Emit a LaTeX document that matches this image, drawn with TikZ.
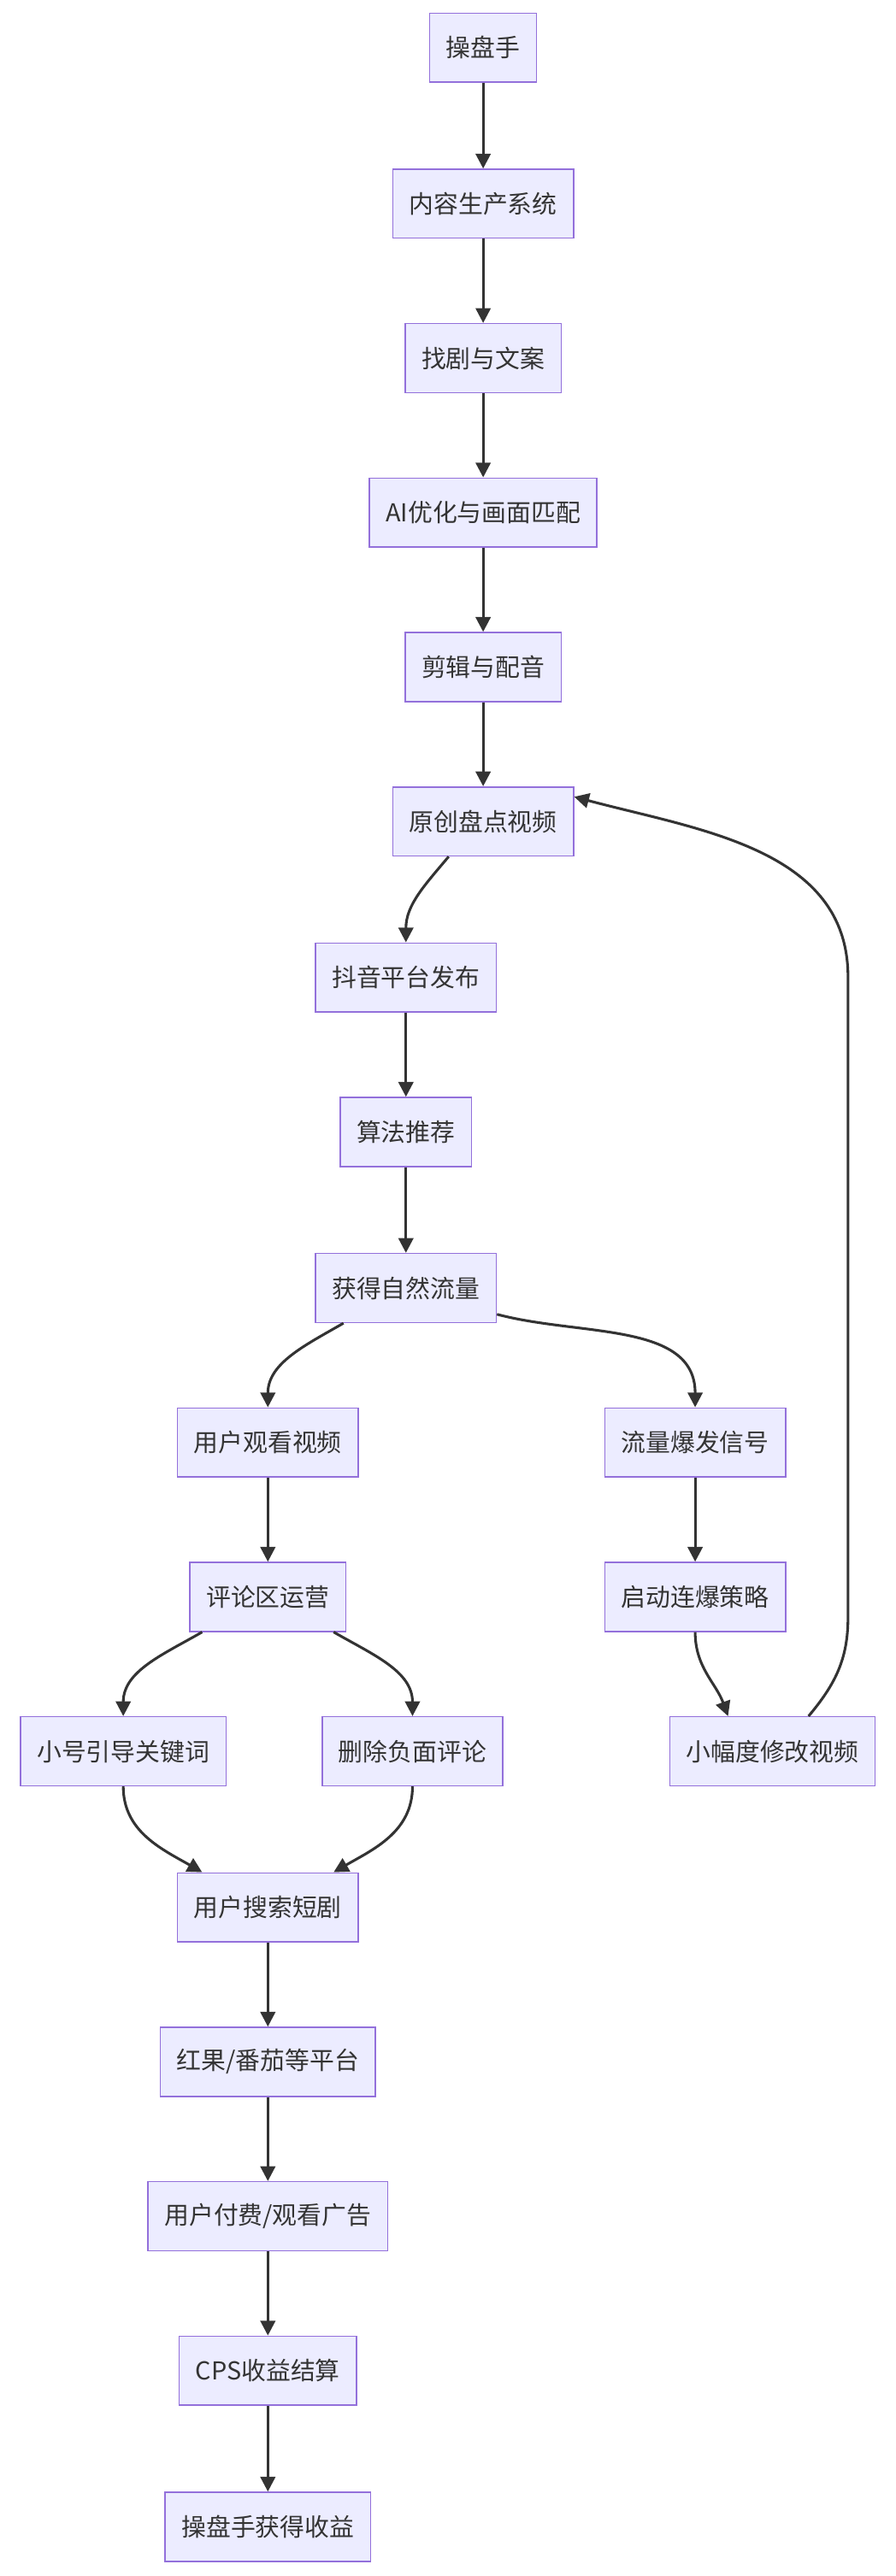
\documentclass[tikz,border=0pt]{standalone}
\usepackage{fontspec}
\setmainfont{Noto Sans CJK SC}
\usetikzlibrary{arrows.meta}
\definecolor{boxfill}{HTML}{ECECFF}
\definecolor{boxline}{HTML}{9370DB}
\definecolor{linkcol}{HTML}{333333}
\tikzset{
  box/.style={draw=boxline, fill=boxfill, line width=0.8pt, minimum height=42pt,
    inner xsep=10pt, font=\fontsize{15}{18}\selectfont, text=linkcol},
  link/.style={draw=linkcol, line width=1.6pt, -{Triangle[length=9pt,width=9pt]}}
}
\begin{document}
\begin{tikzpicture}[x=1pt,y=-1pt]
        \useasboundingbox (0,0) rectangle (545.2,1568);
        % Nodes
        \node[box] (op) at (294,29) {操盘手};
        \node[box] (sys) at (294,124) {内容生产系统};
        \node[box] (find) at (294,218) {找剧与文案};
        \node[box] (ai) at (294,312) {AI优化与画面匹配};
        \node[box] (edit) at (294,406) {剪辑与配音};
        \node[box] (orig) at (294,500) {原创盘点视频};
        \node[box] (pub) at (247,595) {抖音平台发布};
        \node[box] (algo) at (247,689) {算法推荐};
        \node[box] (flow) at (247,784) {获得自然流量};
        \node[box] (watch) at (163,878) {用户观看视频};
        \node[box] (burst) at (423,878) {流量爆发信号};
        \node[box] (cmt) at (163,972) {评论区运营};
        \node[box] (combo) at (423,972) {启动连爆策略};
        \node[box] (alt) at (75,1066) {小号引导关键词};
        \node[box] (del) at (251,1066) {删除负面评论};
        \node[box] (mod) at (470,1066) {小幅度修改视频};
        \node[box] (search) at (163,1161) {用户搜索短剧};
        \node[box] (plat) at (163,1255) {红果/番茄等平台};
        \node[box] (pay) at (163,1349) {用户付费/观看广告};
        \node[box] (cps) at (163,1443) {CPS收益结算};
        \node[box] (gain) at (163,1538) {操盘手获得收益};

        % Edges
        \draw[link] (op) -- (sys);
        \draw[link] (sys) -- (find);
        \draw[link] (find) -- (ai);
        \draw[link] (ai) -- (edit);
        \draw[link] (edit) -- (orig);
        \draw[link] ([xshift=-21pt]orig.south) to[out=-130,in=90] (pub.north);
        \draw[link] (pub) -- (algo);
        \draw[link] (algo) -- (flow);
        \draw[link] ([xshift=-38pt]flow.south) to[out=-150,in=90] (watch.north);
        \draw[link] ([yshift=-16pt]flow.east) to[out=-15,in=90] (burst.north);
        \draw[link] (watch) -- (cmt);
        \draw[link] (burst) -- (combo);
        \draw[link] ([xshift=-40pt]cmt.south) to[out=-150,in=90] (alt.north);
        \draw[link] ([xshift=40pt]cmt.south) to[out=-30,in=90] (del.north);
        \draw[link] (combo.south) to[out=-90,in=110] ([xshift=-27pt]mod.north);
        \draw[link] (alt.south) to[out=-90,in=150] ([xshift=-40pt]search.north);
        \draw[link] (del.south) to[out=-90,in=30] ([xshift=40pt]search.north);
        \draw[link] ([xshift=22pt]mod.north) to[out=50,in=-90] ++(24,-60)
          -- ++(0,-390) to[out=90,in=-15] ([yshift=15pt]orig.east);
        \draw[link] (search) -- (plat);
        \draw[link] (plat) -- (pay);
        \draw[link] (pay) -- (cps);
        \draw[link] (cps) -- (gain);
\end{tikzpicture}
\end{document}
